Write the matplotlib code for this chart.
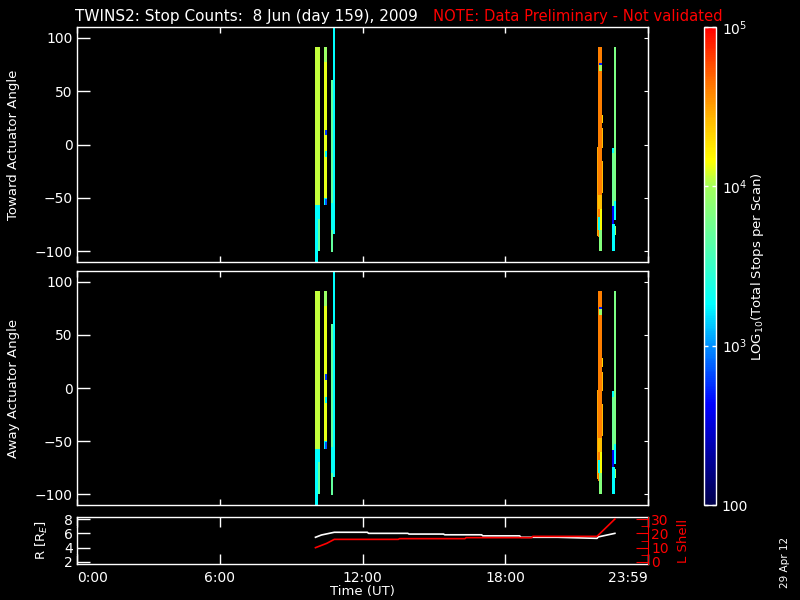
import matplotlib
matplotlib.use("Agg")
import matplotlib.pyplot as plt
from matplotlib.colors import LinearSegmentedColormap, LogNorm
from matplotlib.ticker import MultipleLocator, FixedLocator, FixedFormatter, NullLocator
from matplotlib.cm import ScalarMappable

plt.rcParams['font.family'] = 'DejaVu Sans'

# --- data ---------------------------------------------------------------
# spectrogram cells: (t_start [h UT], t_end [h UT], angle_lo, angle_hi, stops per scan)
toward_cells = [
    (10.00, 10.21, -57, 91, 11500),
    (10.00, 10.11, -112, -57, 1800),
    (10.11, 10.21, -70, -57, 1800),
    (10.11, 10.21, -100, -70, 5000),
    (10.38, 10.51, 77, 91, 9000),
    (10.38, 10.51, -57, 77, 13000),
    (10.43, 10.51, 9, 14, 600),
    (10.43, 10.51, -12, -6, 1800),
    (10.38, 10.51, -57, -50, 1800),
    (10.43, 10.51, -57, -51, 700),
    (10.68, 10.76, -101, 60, 5000),
    (10.68, 10.76, -80, -55, 2000),
    (10.76, 10.84, -84, 115, 1800),
    (21.83, 21.90, -86, -2, 30000),
    (21.90, 22.04, -87, 91, 40000),
    (21.94, 22.04, 74, 76, 500),
    (21.94, 22.04, 69, 74, 9000),
    (22.04, 22.10, 20, 28, 20000),
    (22.04, 22.10, -3, 15, 25000),
    (22.04, 22.08, -45, -15, 25000),
    (21.90, 22.04, -60, -47, 25000),
    (21.90, 21.97, -80, -68, 2000),
    (21.97, 22.04, -80, -60, 14000),
    (21.94, 22.04, -100, -80, 7000),
    (22.55, 22.66, -53, 91, 6500),
    (22.49, 22.55, -81, -3, 5500),
    (22.49, 22.55, -8, -3, 1800),
    (22.55, 22.66, -71, -53, 1800),
    (22.49, 22.57, -74, -58, 400),
    (22.49, 22.60, -100, -74, 1800),
    (22.60, 22.66, -85, -76, 9000),
]

away_cells = [
    (10.00, 10.21, -57, 91, 11500),
    (10.00, 10.11, -112, -57, 1800),
    (10.11, 10.21, -70, -57, 1800),
    (10.11, 10.21, -100, -70, 5000),
    (10.38, 10.51, 77, 91, 9000),
    (10.38, 10.51, -57, 77, 13000),
    (10.43, 10.51, 8, 13, 600),
    (10.43, 10.51, -14, -8, 1800),
    (10.38, 10.51, -57, -50, 1800),
    (10.43, 10.51, -57, -51, 700),
    (10.68, 10.76, -101, 60, 5000),
    (10.68, 10.76, -80, -55, 2000),
    (10.76, 10.84, -84, 115, 1800),
    (21.83, 21.90, -86, -2, 30000),
    (21.90, 22.04, -87, 91, 40000),
    (21.94, 22.04, 74, 76, 500),
    (21.94, 22.04, 69, 74, 9000),
    (22.04, 22.10, 20, 28, 20000),
    (22.04, 22.10, -3, 15, 25000),
    (22.04, 22.08, -45, -15, 25000),
    (21.90, 22.04, -60, -47, 25000),
    (21.90, 21.97, -80, -68, 2000),
    (21.97, 22.04, -80, -60, 14000),
    (21.94, 22.04, -100, -80, 7000),
    (22.55, 22.66, -53, 91, 6500),
    (22.49, 22.55, -81, -3, 5500),
    (22.49, 22.55, -8, -3, 1800),
    (22.55, 22.66, -71, -53, 1800),
    (22.49, 22.57, -74, -58, 400),
    (22.49, 22.60, -100, -74, 1800),
    (22.60, 22.66, -85, -76, 9000),
]

# orbit: radial distance and L shell
r_time = [10.02, 10.27, 10.81, 12.2, 12.25, 13.9, 13.95, 15.4, 15.45, 17.0, 17.05,
          18.6, 18.65, 20.2, 21.85, 21.9, 22.6]
r_value = [5.45, 5.77, 6.15, 6.15, 6.0, 6.0, 5.9, 5.9, 5.8, 5.8, 5.65,
           5.65, 5.45, 5.45, 5.3, 5.5, 6.0]
l_time = [10.02, 10.49, 10.81, 13.5, 13.55, 16.3, 16.35, 19.1, 19.15, 21.85, 22.6]
l_value = [10.0, 13.0, 15.8, 15.8, 16.3, 16.3, 17.0, 17.0, 17.9, 17.9, 30.0]

hour_ticks = [0, 6, 12, 18, 24]
hour_labels = ['0:00', '6:00', '12:00', '18:00', '23:59']
cbar_ticks = [100, 1e3, 1e4, 1e5]
cbar_labels = ['100', '10$^3$', '10$^4$', '10$^5$']

# IDL-like rainbow colour table
cmap = LinearSegmentedColormap.from_list('idl_rainbow', [
    (0.0, (0.0, 0.0, 0.30)), (0.11, (0.0, 0.0, 0.65)), (0.21, (0.0, 0.0, 1.0)),
    (0.33, (0.0, 0.55, 1.0)), (0.42, (0.0, 1.0, 1.0)), (0.53, (0.3, 1.0, 0.7)),
    (0.67, (0.65, 1.0, 0.35)), (0.72, (1.0, 1.0, 0.0)), (0.80, (1.0, 0.75, 0.0)),
    (0.87, (1.0, 0.5, 0.0)), (1.0, (1.0, 0.0, 0.0))])
norm = LogNorm(vmin=100, vmax=1e5)

fig = plt.figure(figsize=(8, 6), dpi=100, facecolor='black')

ax1 = fig.add_axes([0.09625, 0.5633, 0.714, 0.3917])
ax2 = fig.add_axes([0.09625, 0.1583, 0.714, 0.3900])
ax3 = fig.add_axes([0.09625, 0.0600, 0.714, 0.0783])
cax = fig.add_axes([0.880, 0.1583, 0.015, 0.7967])


def style_panel(ax):
    ax.set_facecolor('black')
    for s in ax.spines.values():
        s.set_color('white')
        s.set_linewidth(1.0)
    ax.set_xlim(0, 24)
    ax.xaxis.set_major_locator(MultipleLocator(6))
    ax.xaxis.set_minor_locator(MultipleLocator(1))
    ax.tick_params(colors='white', labelsize=10, direction='in', width=1)


for ax, cells, label in [(ax1, toward_cells, 'Toward Actuator Angle'),
                         (ax2, away_cells, 'Away Actuator Angle')]:
    style_panel(ax)
    for t0, t1, lo, hi, c in cells:
        ax.bar(t0, hi - lo, width=t1 - t0, bottom=lo, align='edge',
               color=cmap(norm(c)), linewidth=0, antialiased=False)
    ax.set_ylim(-110, 110)
    ax.yaxis.set_major_locator(MultipleLocator(50))
    ax.yaxis.set_minor_locator(MultipleLocator(10))
    ax.tick_params(axis='x', which='major', top=True, bottom=True, length=4, labelbottom=False)
    ax.tick_params(axis='x', which='minor', top=True, bottom=True, length=2)
    ax.tick_params(axis='y', which='major', left=True, right=False, length=9, pad=3)
    ax.tick_params(axis='y', which='minor', left=True, right=False, length=4.5)
    sec = ax.secondary_yaxis('right')
    sec.set_yticks([-100, -50, 0, 50, 100])
    sec.tick_params(colors='white', direction='in', length=3, labelright=False)
    sec.spines['right'].set_color('white')
    ax.set_ylabel(label, color='white', fontsize=9.5)
    ax.yaxis.set_label_coords(-0.1, 0.5)

# orbit panel
style_panel(ax3)
ax3.plot(r_time, r_value, color='white', linewidth=1.2)
ax3.set_ylim(1.72, 8.28)
ax3.yaxis.set_major_locator(FixedLocator([2, 4, 6, 8]))
ax3.yaxis.set_minor_locator(FixedLocator([3, 5, 7]))
ax3.xaxis.set_major_locator(FixedLocator(hour_ticks))
ax3.xaxis.set_major_formatter(FixedFormatter(hour_labels))
ax3.tick_params(axis='x', which='major', top=True, bottom=True, length=7, pad=5)
ax3.tick_params(axis='x', which='minor', top=True, bottom=True, length=3)
ax3.tick_params(axis='y', which='major', left=True, right=False, length=9, pad=3)
ax3.tick_params(axis='y', which='minor', left=True, right=False, length=5)
xl = ax3.get_xticklabels()
xl[0].set_horizontalalignment('left')
xl[-1].set_horizontalalignment('right')
ax3.set_xlabel('Time (UT)', color='white', fontsize=9.5, labelpad=0)
ax3.set_ylabel('R [R$_E$]', color='white', fontsize=9.5)
ax3.yaxis.set_label_coords(-0.047, 0.5)
ax3.spines['right'].set_visible(False)

ax3r = ax3.twinx()
ax3r.plot(l_time, l_value, color='red', linewidth=1.2)
ax3r.set_ylim(-1.4, 31.4)
ax3r.yaxis.set_major_locator(FixedLocator([0, 10, 20, 30]))
ax3r.yaxis.set_minor_locator(MultipleLocator(5))
ax3r.tick_params(axis='y', which='both', colors='red', direction='in', labelsize=10, pad=2)
ax3r.tick_params(axis='y', which='major', length=9)
ax3r.tick_params(axis='y', which='minor', length=5)
for s in ['left', 'top', 'bottom']:
    ax3r.spines[s].set_visible(False)
ax3r.spines['right'].set_color('red')
ax3r.set_ylabel('L Shell', color='red', fontsize=9.5, rotation=90)
ax3r.yaxis.set_label_coords(1.05, 0.5)

# colour bar
cb = fig.colorbar(ScalarMappable(norm=norm, cmap=cmap), cax=cax)
cb.outline.set_edgecolor('white')
cb.outline.set_linewidth(1.0)
cax.yaxis.set_major_locator(FixedLocator(cbar_ticks))
cax.yaxis.set_major_formatter(FixedFormatter(cbar_labels))
cax.yaxis.set_minor_locator(NullLocator())
cax.tick_params(axis='y', colors='white', direction='in', length=3, width=1,
                left=True, right=True, labelleft=False, labelright=True,
                labelsize=10, pad=4)
fig.text(0.947, 0.555, 'LOG$_{10}$(Total Stops per Scan)', color='white',
         fontsize=9.5, rotation=90, ha='center', va='center')

# title and stamp
fig.text(0.094, 0.972, 'TWINS2: Stop Counts:  8 Jun (day 159), 2009', color='white',
         fontsize=11, ha='left', va='center')
fig.text(0.541, 0.972, 'NOTE: Data Preliminary - Not validated', color='red',
         fontsize=10.6, ha='left', va='center')
fig.text(0.981, 0.062, '29 Apr 12', color='white', fontsize=7.5, rotation=90,
         ha='center', va='center')

fig.savefig('out.png', dpi=100, facecolor='black')
